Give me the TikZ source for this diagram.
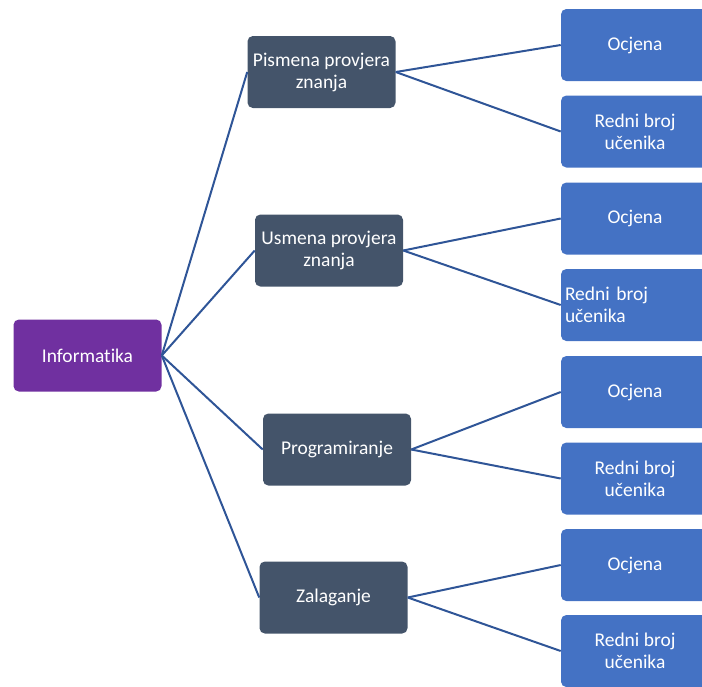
\documentclass[tikz,border=0pt]{standalone}
\usepackage{fontspec}
\setmainfont{Carlito}[Ligatures=NoCommon]
\definecolor{rootcol}{HTML}{7030A0}
\definecolor{midcol}{HTML}{44546A}
\definecolor{leafcol}{HTML}{4472C4}
\definecolor{linecol}{HTML}{2F5597}

\begin{document}
\begin{tikzpicture}[x=0.75pt,y=-0.75pt,
  box/.style={rounded corners=4pt,text=white,font=\fontsize{14.6}{16.5}\selectfont,align=center,inner sep=0pt,minimum width=111pt,minimum height=54pt},
  rootbox/.style={box,fill=rootcol},
  midbox/.style={box,fill=midcol},
  leafbox/.style={box,fill=leafcol},
  link/.style={linecol,line width=1.5pt}]
\useasboundingbox (0,0) rectangle (702,686);
\clip (0,0) rectangle (702,686);

\node[rootbox] (inf) at (87.5,355.5) {Informatika};

\node[midbox] (pis) at (321.5,72) {Pismena provjera\\znanja};
\node[midbox] (usm) at (329,250.5) {Usmena provjera\\znanja};
\node[midbox] (prog) at (337,449.5) {Programiranje};
\node[midbox] (zal) at (333.5,597.5) {Zalaganje};

\node[leafbox] (pisO) at (635,45) {Ocjena};
\node[leafbox] (pisR) at (635,131.5) {Redni broj\\učenika};
\node[leafbox] (usmO) at (635,218.5) {Ocjena};
\node[leafbox,align=left,text width=105pt] (usmR) at (635,305) {Redni broj\\učenika};
\node[leafbox] (progO) at (635,392) {Ocjena};
\node[leafbox] (progR) at (635,478.5) {Redni broj\\učenika};
\node[leafbox] (zalO) at (635,565) {Ocjena};
\node[leafbox] (zalR) at (635,651) {Redni broj\\učenika};

\foreach \m in {pis,usm,prog,zal}{
  \draw[link] (inf.east)--(\m.west);
  \draw[link] (\m.east)--(\m O.west);
  \draw[link] (\m.east)--(\m R.west);
}
\end{tikzpicture}
\end{document}
